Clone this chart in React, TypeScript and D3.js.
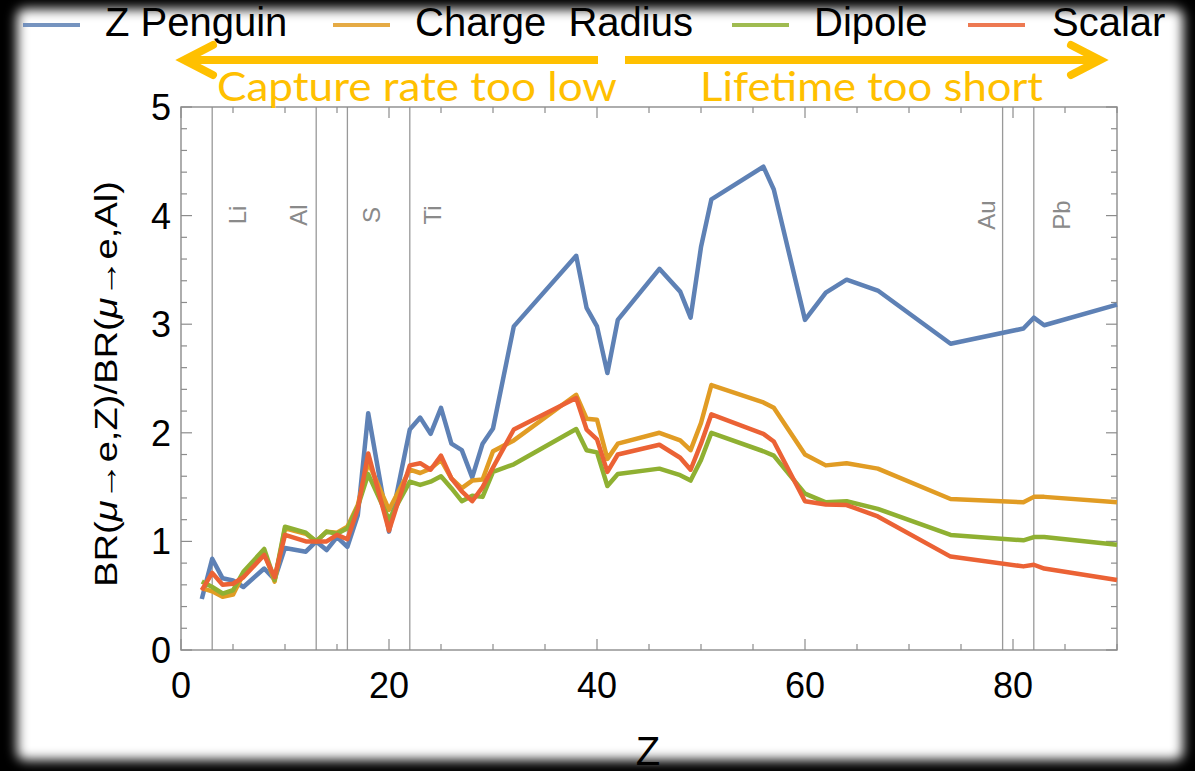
import React from "react";
import * as d3 from "d3";

const Z = [2, 3, 4, 5, 6, 8, 9, 10, 12, 13, 14, 15, 16, 17, 18, 20, 22, 23, 24, 25, 26, 27, 28, 29, 30, 32, 38, 39, 40, 41, 42, 46, 48, 49, 50, 51, 56, 57, 60, 62, 64, 67, 74, 81, 82, 83, 90];
const zPenguin = [0.47, 0.84, 0.66, 0.64, 0.58, 0.75, 0.65, 0.94, 0.905, 1.0, 0.92, 1.04, 0.95, 1.24, 2.18, 1.09, 2.03, 2.14, 1.99, 2.23, 1.9, 1.84, 1.59, 1.9, 2.04, 2.98, 3.63, 3.15, 2.98, 2.55, 3.04, 3.51, 3.3, 3.06, 3.71, 4.15, 4.45, 4.24, 3.04, 3.29, 3.41, 3.31, 2.82, 2.96, 3.06, 2.99, 3.18];
const chargeRadius = [0.57, 0.54, 0.49, 0.51, 0.7, 0.9, 0.63, 1.12, 1.07, 1.0, 1.09, 1.08, 1.135, 1.335, 1.73, 1.29, 1.66, 1.63, 1.67, 1.75, 1.58, 1.49, 1.56, 1.57, 1.83, 1.93, 2.35, 2.13, 2.12, 1.76, 1.9, 2.0, 1.93, 1.84, 2.09, 2.44, 2.28, 2.23, 1.8, 1.7, 1.72, 1.67, 1.39, 1.36, 1.41, 1.41, 1.36];
const dipole = [0.63, 0.58, 0.52, 0.55, 0.72, 0.93, 0.645, 1.135, 1.08, 1.0, 1.09, 1.07, 1.12, 1.32, 1.62, 1.2, 1.55, 1.52, 1.55, 1.6, 1.49, 1.37, 1.42, 1.41, 1.64, 1.71, 2.035, 1.84, 1.82, 1.51, 1.62, 1.67, 1.61, 1.56, 1.75, 2.0, 1.83, 1.79, 1.44, 1.36, 1.37, 1.3, 1.06, 1.01, 1.04, 1.04, 0.97];
const scalar = [0.55, 0.71, 0.6, 0.61, 0.67, 0.875, 0.67, 1.06, 1.0, 1.0, 1.0, 1.06, 1.02, 1.3, 1.81, 1.1, 1.7, 1.72, 1.66, 1.79, 1.58, 1.46, 1.37, 1.5, 1.68, 2.03, 2.32, 2.03, 1.94, 1.64, 1.8, 1.89, 1.77, 1.66, 1.9, 2.17, 1.99, 1.92, 1.37, 1.34, 1.335, 1.23, 0.86, 0.77, 0.785, 0.75, 0.645];

const seriesNames = ["Z Penguin", "Charge  Radius", "Dipole", "Scalar"];
const seriesColors = ["#5E81B5", "#E19C24", "#8FB032", "#EB6235"];
const seriesValues = [zPenguin, chargeRadius, dipole, scalar];

const xTicks = [0, 20, 40, 60, 80];
const yTicks = [0, 1, 2, 3, 4, 5];
const elementNames = ["Li", "Al", "S", "Ti", "Au", "Pb"];
const elementZ = [3, 13, 16, 22, 79, 82];
const elementOffsets = [25, -18, 24, 23, -16, 28];

const W = 1195;
const H = 771;
const L = 181, R = 1117, T = 107, B = 650;

export default function App() {
  const x = d3.scaleLinear().domain([0, 90]).range([L, R]);
  const y = d3.scaleLinear().domain([0, 5]).range([B, T]);
  const gray = "#8c8c8c";
  const font = "'Liberation Sans', Arial, Helvetica, sans-serif";

  const minorX = d3.range(0, 91, 5);
  const minorY = d3.range(0, 5.001, 0.2);

  const line = (vals: number[]) =>
    d3.line<number>().x((_, i) => x(Z[i])).y((v) => y(v))(vals) || "";

  const legendLineX = [23, 333, 732, 968];
  const legendTextX = [105, 415, 814, 1052];
  const arrowColor = "#FFC000";

  return (
    <svg width={W} height={H} style={{ position: "absolute", left: 0, top: 0 }} fontFamily={font}>
      <defs>
        <filter id="soft" x="-5%" y="-5%" width="110%" height="110%">
          <feGaussianBlur stdDeviation="6" />
        </filter>
        <clipPath id="plotClip">
          <rect x={L} y={T} width={R - L + 4} height={B - T} />
        </clipPath>
      </defs>
      <rect x={0} y={0} width={W} height={H} fill="#000" />
      <rect x={17} y={9} width={1166} height={751} rx={8} fill="#fff" filter="url(#soft)" />

      {/* element lines */}
      {elementZ.map((z, i) => (
        <line key={"el" + i} x1={x(z)} x2={x(z)} y1={T} y2={B} stroke="#999" strokeWidth={1.3} />
      ))}
      {elementNames.map((n, i) => {
        const cx = x(elementZ[i]) + elementOffsets[i];
        const cy = 215;
        return (
          <text key={"en" + i} x={cx} y={cy} transform={`rotate(-90 ${cx} ${cy})`} textAnchor="middle"
            dominantBaseline="central" fontSize={24} fill="#8a8a8a">{n}</text>
        );
      })}

      {/* frame */}
      <rect x={L} y={T} width={R - L} height={B - T} fill="none" stroke={gray} strokeWidth={1.4} />
      {minorX.map((t) => {
        const len = t % 20 === 0 ? 11 : 6;
        return (
          <g key={"xt" + t}>
            <line x1={x(t)} x2={x(t)} y1={B} y2={B - len} stroke={gray} strokeWidth={1.2} />
            <line x1={x(t)} x2={x(t)} y1={T} y2={T + len} stroke={gray} strokeWidth={1.2} />
          </g>
        );
      })}
      {minorY.map((t, i) => {
        const len = i % 5 === 0 ? 11 : 6;
        return (
          <g key={"yt" + i}>
            <line x1={L} x2={L + len} y1={y(t)} y2={y(t)} stroke={gray} strokeWidth={1.2} />
            <line x1={R} x2={R - len} y1={y(t)} y2={y(t)} stroke={gray} strokeWidth={1.2} />
          </g>
        );
      })}

      {/* tick labels */}
      {xTicks.map((t) => (
        <text key={"xl" + t} x={x(t)} y={698} textAnchor="middle" fontSize={36} fill="#000">{t}</text>
      ))}
      {yTicks.map((t) => (
        <text key={"yl" + t} x={171} y={y(t) + 13} textAnchor="end" fontSize={36} fill="#000">{t}</text>
      ))}

      {/* axis titles */}
      <text x={648} y={765} textAnchor="middle" fontSize={40} fill="#000">Z</text>
      <text x={117} y={384} transform="rotate(-90 117 384)" textAnchor="middle" fontSize={32} fill="#000"
        textLength={406} lengthAdjust="spacingAndGlyphs">
        BR(<tspan fontStyle="italic">μ</tspan>→e,Z)/BR(<tspan fontStyle="italic">μ</tspan>→e,Al)
      </text>

      {/* series */}
      <g clipPath="url(#plotClip)">
        {seriesValues.map((vals, i) => (
          <path key={"s" + i} d={line(vals)} fill="none" stroke={seriesColors[i]} strokeWidth={4.5}
            strokeLinejoin="round" />
        ))}
      </g>

      {/* legend */}
      {seriesNames.map((n, i) => (
        <g key={"lg" + i}>
          <line x1={legendLineX[i]} x2={legendLineX[i] + 57} y1={25} y2={25} stroke={seriesColors[i]}
            strokeWidth={4} opacity={0.85} />
          <text x={legendTextX[i]} y={36} fontSize={40} fill="#000" style={{ whiteSpace: "pre" }}>{n}</text>
        </g>
      ))}

      {/* arrows */}
      <line x1={186} x2={598} y1={60} y2={60} stroke={arrowColor} strokeWidth={8} />
      <polyline points="213,45 184,60 213,75" fill="none" stroke={arrowColor} strokeWidth={8}
        strokeLinecap="round" strokeLinejoin="miter" />
      <line x1={625} x2={1098} y1={60} y2={60} stroke={arrowColor} strokeWidth={8} />
      <polyline points="1071,45 1100,60 1071,75" fill="none" stroke={arrowColor} strokeWidth={8}
        strokeLinecap="round" strokeLinejoin="miter" />
      <text x={217} y={101} fontSize={40} fill={arrowColor} fontFamily="Lato, 'Open Sans', sans-serif"
        textLength={400} lengthAdjust="spacingAndGlyphs">Capture rate too low</text>
      <text x={700} y={101} fontSize={40} fill={arrowColor} fontFamily="Lato, 'Open Sans', sans-serif"
        textLength={343} lengthAdjust="spacingAndGlyphs">Lifetime too short</text>
    </svg>
  );
}
